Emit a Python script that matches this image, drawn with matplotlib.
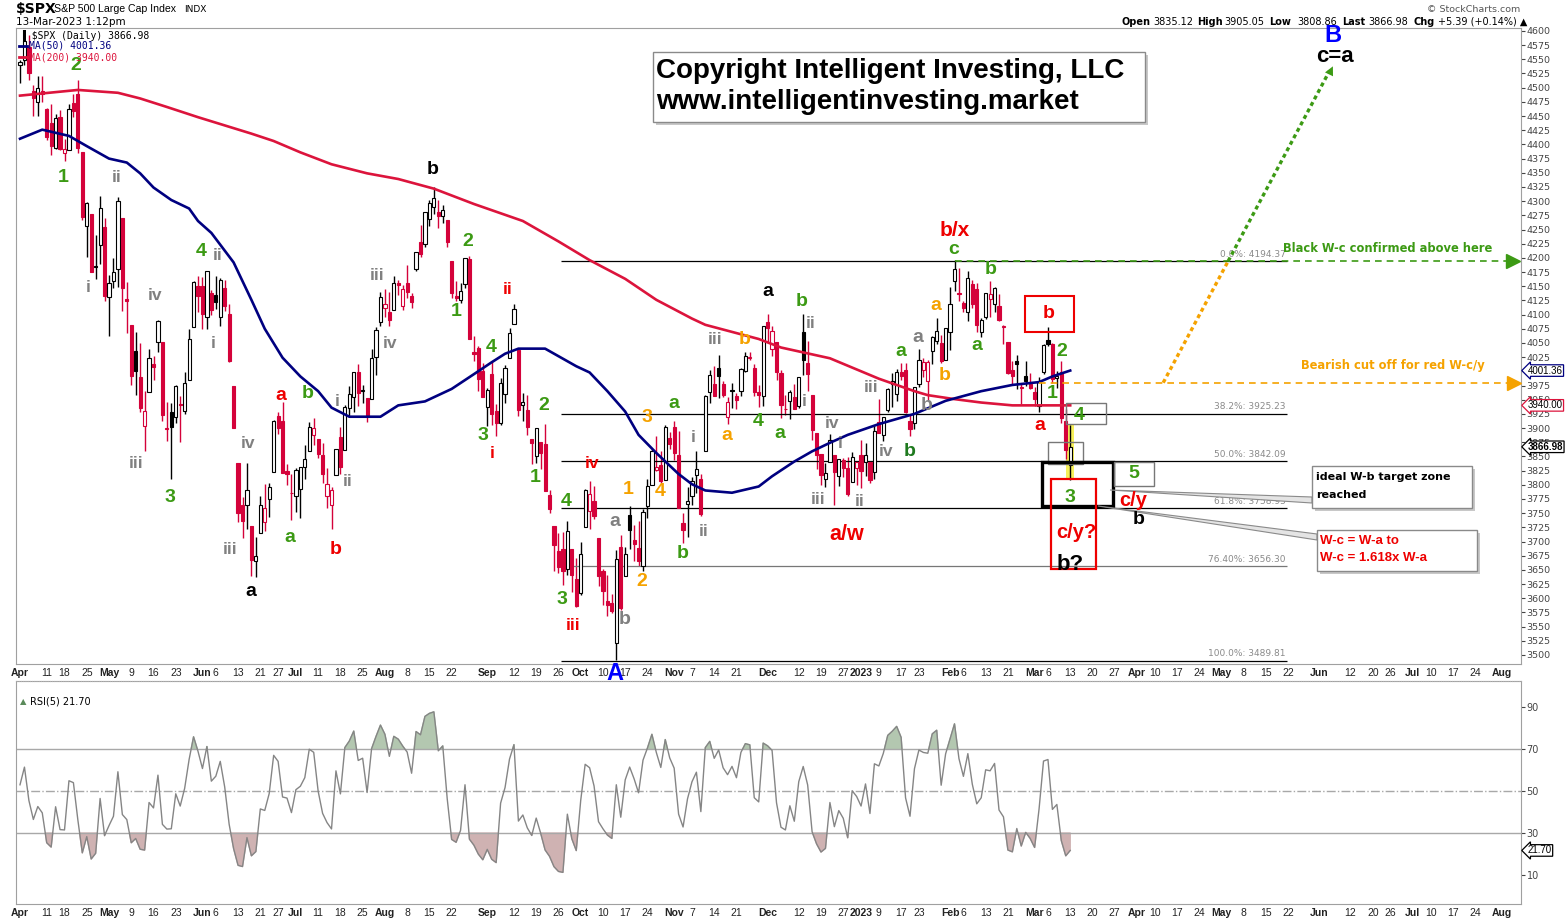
import numpy as np
import pandas as pd
import matplotlib
matplotlib.use('Agg')
import matplotlib.pyplot as plt
import matplotlib.transforms as mtransforms
from matplotlib.patches import Rectangle, Polygon

# S&P 500 daily prices, 1 Apr 2022 .. 13 Mar 2023 (one row per month)
opens = [
    4540.32, 4547.97, 4572.45, 4494.17, 4474.65, 4494.15, 4462.64, 4437.59, 4394.30, 4449.12, 4385.63, 4390.63, 4472.26, 4489.17, 4385.83, 4255.34, 4278.14, 4186.52, 4222.58, 4253.75,
    4130.61, 4159.78, 4181.18, 4270.43, 4128.17, 4081.27, 4035.18, 3990.08, 3903.95, 3963.90, 4013.02, 4052.00, 4051.98, 3899.00, 3927.76, 3919.42, 3942.94, 3929.59, 3984.60, 4077.43, 4151.09,
    4149.78, 4095.41, 4137.57, 4134.72, 4096.47, 4147.12, 4101.65, 3974.39, 3838.15, 3763.52, 3764.05, 3728.18, 3665.90, 3715.31, 3733.89, 3774.71, 3821.75, 3920.76, 3913.00, 3825.09, 3785.99,
    3781.00, 3792.61, 3831.98, 3858.85, 3888.26, 3880.94, 3851.95, 3779.67, 3763.99, 3818.00, 3883.79, 3860.73, 3935.32, 3955.47, 3998.43, 3965.72, 3953.22, 3951.43, 4026.13, 4087.33,
    4112.38, 4104.21, 4107.96, 4154.85, 4115.87, 4155.93, 4133.11, 4181.02, 4227.40, 4225.02, 4269.37, 4290.46, 4280.40, 4273.13, 4266.31, 4195.08, 4133.09, 4126.55, 4153.26, 4198.74, 4034.58, 4041.25, 4000.67,
    3936.73, 3994.66, 3930.89, 3909.43, 3959.94, 4022.94, 4083.67, 4037.12, 3940.73, 3932.41, 3880.95, 3849.91, 3875.23, 3871.40, 3782.36, 3727.14, 3682.72, 3686.44, 3651.94, 3687.01, 3633.48,
    3609.78, 3726.46, 3753.25, 3771.97, 3706.74, 3647.51, 3595.86, 3590.83, 3520.37, 3690.41, 3638.65, 3746.26, 3703.11, 3689.05, 3657.10, 3762.01, 3799.44, 3825.97, 3834.69, 3808.26, 3881.85,
    3901.79, 3852.90, 3733.25, 3766.98, 3780.71, 3817.02, 3810.94, 3859.89, 3963.72, 3977.97, 4006.41, 3976.82, 3919.26, 3966.39, 3956.23, 3965.51, 4000.30, 4023.34, 4005.36, 3964.19, 3957.18,
    4087.14, 4040.17, 4052.02, 3996.63, 3933.28, 3947.79, 3954.17, 3939.29, 4069.38, 4015.54, 3958.37, 3890.91, 3853.79, 3810.47, 3839.49, 3853.26, 3815.11, 3843.34, 3829.56, 3805.45, 3829.06,
    3853.29, 3840.36, 3839.74, 3823.37, 3910.82, 3888.57, 3932.35, 3977.57, 3960.60, 3999.28, 4002.25, 3911.84, 3909.04, 3978.14, 4001.74, 3982.71, 4036.08, 4053.72, 4049.27, 4020.85,
    4070.07, 4158.68, 4136.69, 4119.57, 4105.35, 4153.47, 4144.25, 4068.92, 4096.62, 4126.70, 4119.50, 4114.75, 4077.39, 4052.35, 4001.83, 4018.60, 3973.24, 3992.36, 3977.19,
    3963.34, 3938.68, 3998.02, 4055.15, 4048.26, 3987.55, 3998.66, 3912.77, 3835.12,
]
highs = [
    4548.70, 4583.50, 4593.45, 4503.94, 4521.16, 4520.41, 4464.35, 4471.00, 4453.92, 4460.46, 4410.31, 4471.03, 4488.29, 4512.94, 4385.83, 4299.02, 4278.14, 4240.71, 4308.45, 4269.68,
    4169.81, 4200.10, 4307.66, 4270.43, 4157.69, 4081.27, 4068.82, 4049.09, 3964.80, 4038.88, 4026.17, 4090.72, 4051.98, 3945.96, 3943.42, 3975.45, 3955.68, 3999.33, 4075.14, 4158.49, 4168.34,
    4166.54, 4177.51, 4142.67, 4168.78, 4164.86, 4160.14, 4119.10, 3974.39, 3838.15, 3778.18, 3837.56, 3728.18, 3707.71, 3779.65, 3801.79, 3802.58, 3913.65, 3927.72, 3945.86, 3836.50, 3818.99,
    3829.82, 3832.19, 3870.91, 3910.63, 3918.50, 3880.94, 3873.41, 3829.44, 3796.41, 3863.62, 3902.44, 3939.81, 3974.13, 3999.29, 4012.44, 3975.30, 3953.22, 4039.56, 4078.95, 4140.15,
    4144.95, 4140.47, 4167.66, 4161.29, 4151.58, 4186.62, 4137.30, 4211.03, 4257.91, 4280.47, 4301.79, 4325.28, 4302.18, 4292.53, 4266.31, 4195.08, 4159.77, 4156.56, 4200.54, 4203.04, 4062.99, 4044.98, 4015.37,
    3970.23, 4018.43, 3942.55, 3987.89, 4010.50, 4076.81, 4119.28, 4037.12, 3961.94, 3959.14, 3880.95, 3900.45, 3876.01, 3907.07, 3790.68, 3727.14, 3715.67, 3717.53, 3736.74, 3687.01, 3671.44,
    3698.35, 3791.92, 3806.91, 3797.93, 3706.74, 3652.17, 3640.66, 3608.34, 3685.41, 3712.00, 3689.73, 3762.79, 3728.58, 3736.00, 3757.89, 3810.74, 3862.85, 3886.15, 3859.95, 3905.42, 3893.73,
    3911.79, 3894.44, 3750.59, 3796.34, 3813.95, 3859.40, 3818.20, 3959.09, 4001.48, 4008.97, 4028.84, 3983.09, 3954.33, 3979.89, 3962.00, 4005.88, 4033.78, 4034.02, 4012.27, 3976.77, 4080.11,
    4100.51, 4080.48, 4052.45, 4001.51, 3957.57, 3966.64, 3977.02, 3990.71, 4100.96, 4053.76, 3958.37, 3890.91, 3854.86, 3838.24, 3889.82, 3853.26, 3845.80, 3846.65, 3848.32, 3858.19, 3839.85,
    3878.46, 3873.16, 3839.74, 3906.19, 3950.57, 3919.83, 3970.07, 3997.76, 4003.95, 4015.39, 4014.16, 3922.94, 3972.96, 4039.31, 4023.92, 4019.55, 4061.57, 4094.21, 4063.85, 4077.16,
    4148.95, 4195.44, 4182.36, 4124.63, 4176.54, 4160.77, 4156.23, 4094.36, 4138.90, 4159.77, 4148.11, 4136.54, 4081.51, 4052.35, 4017.37, 4028.30, 3978.25, 4018.05, 3997.50,
    3971.73, 3990.84, 4048.29, 4078.49, 4050.00, 4000.41, 4017.81, 3934.05, 3905.05,
]
lows = [
    4507.57, 4539.21, 4514.17, 4450.04, 4450.30, 4474.60, 4408.38, 4381.34, 4392.70, 4390.77, 4370.30, 4390.63, 4448.76, 4384.47, 4267.62, 4200.82, 4175.04, 4162.90, 4188.63, 4124.28,
    4062.51, 4147.08, 4148.91, 4106.01, 4067.91, 3975.48, 3958.17, 3928.82, 3858.87, 3963.90, 3983.99, 4033.93, 3911.91, 3876.58, 3810.32, 3909.46, 3875.13, 3925.03, 3984.60, 4077.43, 4104.88,
    4073.85, 4074.37, 4098.67, 4109.18, 4080.19, 4107.20, 4017.17, 3900.16, 3734.30, 3705.68, 3722.30, 3639.77, 3636.87, 3715.31, 3717.69, 3743.52, 3821.75, 3889.66, 3820.14, 3799.02, 3738.67,
    3752.10, 3742.06, 3809.37, 3858.85, 3869.34, 3847.22, 3802.36, 3759.07, 3721.56, 3817.18, 3818.63, 3860.73, 3922.03, 3927.64, 3938.85, 3943.46, 3910.74, 3951.43, 3992.97, 4079.22,
    4096.02, 4079.81, 4107.96, 4135.42, 4107.31, 4128.97, 4112.09, 4177.26, 4201.41, 4219.78, 4256.90, 4277.77, 4253.08, 4261.98, 4218.70, 4129.86, 4124.03, 4119.97, 4147.59, 4057.66, 4017.42, 3965.21, 3954.53,
    3903.65, 3906.21, 3886.75, 3906.03, 3944.81, 4022.94, 4083.67, 3921.32, 3912.23, 3888.28, 3837.08, 3838.50, 3827.54, 3789.49, 3749.45, 3647.47, 3644.76, 3623.29, 3640.61, 3610.40, 3584.13,
    3604.93, 3726.46, 3722.66, 3739.22, 3620.73, 3588.10, 3568.45, 3573.86, 3491.58, 3579.68, 3638.65, 3686.53, 3666.51, 3656.44, 3647.42, 3741.65, 3799.44, 3824.07, 3803.79, 3808.26, 3863.18,
    3843.80, 3758.68, 3698.15, 3708.84, 3764.70, 3786.28, 3744.22, 3859.89, 3944.82, 3956.40, 3953.17, 3954.34, 3906.54, 3935.98, 3933.34, 3956.88, 3998.66, 4020.76, 3955.77, 3937.65, 3938.58,
    4050.87, 4026.63, 3984.49, 3918.39, 3922.68, 3916.54, 3933.04, 3935.30, 3993.03, 3965.65, 3879.45, 3827.91, 3800.04, 3795.62, 3839.49, 3764.49, 3797.01, 3813.22, 3780.78, 3805.45, 3800.34,
    3794.33, 3815.77, 3802.42, 3809.56, 3890.42, 3877.29, 3928.54, 3937.56, 3947.67, 3984.57, 3926.59, 3885.54, 3897.86, 3971.64, 3989.79, 3949.06, 4013.29, 4048.70, 4015.55, 4020.44,
    4037.20, 4141.88, 4123.36, 4103.98, 4088.39, 4111.35, 4069.67, 4060.79, 4092.67, 4095.01, 4103.98, 4089.49, 4047.95, 3995.19, 3976.90, 3969.19, 3943.08, 3973.55, 3968.98,
    3939.05, 3928.16, 3995.17, 4044.61, 3980.31, 3969.76, 3908.70, 3846.32, 3808.86,
]
closes = [
    4545.86, 4582.64, 4525.12, 4481.15, 4500.21, 4488.28, 4412.53, 4397.45, 4446.59, 4392.59, 4391.69, 4462.21, 4459.45, 4393.66, 4271.78, 4296.12, 4175.20, 4183.96, 4287.50, 4131.93,
    4155.38, 4175.48, 4300.17, 4146.87, 4123.34, 3991.24, 4001.05, 3935.18, 3930.08, 4023.89, 4008.01, 4088.85, 3923.68, 3900.79, 3901.36, 3973.75, 3941.48, 3978.73, 4057.84, 4158.24, 4132.15,
    4101.23, 4176.82, 4108.54, 4121.43, 4160.68, 4115.77, 4017.82, 3900.86, 3749.63, 3735.48, 3789.99, 3666.77, 3674.84, 3764.79, 3759.89, 3795.73, 3911.74, 3900.11, 3821.55, 3818.83, 3785.38,
    3825.33, 3831.39, 3845.08, 3902.62, 3899.38, 3854.43, 3818.80, 3801.78, 3790.38, 3863.16, 3830.85, 3936.69, 3959.90, 3998.95, 3961.63, 3966.84, 3921.05, 4023.61, 4072.43, 4130.29,
    4118.63, 4091.19, 4155.17, 4151.94, 4145.19, 4140.06, 4122.47, 4210.24, 4207.27, 4280.15, 4297.14, 4305.20, 4274.04, 4283.74, 4228.48, 4137.99, 4128.73, 4140.77, 4199.12, 4057.66, 4030.61, 3986.16, 3955.00,
    3966.85, 3924.26, 3908.19, 3979.87, 4006.18, 4067.36, 4110.41, 3932.69, 3946.01, 3901.35, 3873.33, 3899.89, 3855.93, 3789.93, 3757.99, 3693.23, 3655.04, 3647.29, 3719.04, 3640.47, 3585.62,
    3678.43, 3790.93, 3783.28, 3744.52, 3639.66, 3612.39, 3588.84, 3577.03, 3669.91, 3583.07, 3677.95, 3719.98, 3695.16, 3665.78, 3752.75, 3797.34, 3859.11, 3830.60, 3807.30, 3901.06, 3871.98,
    3856.10, 3759.69, 3719.89, 3770.55, 3806.80, 3828.11, 3748.57, 3956.37, 3992.93, 3957.25, 3991.73, 3958.79, 3946.56, 3965.34, 3949.94, 4003.58, 4027.26, 4026.12, 3963.94, 3957.63, 4080.11,
    4076.57, 4071.70, 3998.84, 3941.26, 3933.92, 3963.51, 3934.38, 3990.56, 4019.65, 3995.32, 3895.75, 3852.36, 3817.66, 3821.62, 3878.44, 3822.39, 3844.82, 3829.25, 3783.22, 3849.28, 3839.50,
    3824.14, 3852.97, 3808.10, 3895.08, 3892.09, 3919.25, 3969.61, 3983.17, 3999.09, 3990.97, 3928.86, 3898.85, 3972.61, 4019.81, 4016.95, 4016.22, 4060.43, 4070.56, 4017.77, 4076.60,
    4119.21, 4179.76, 4136.48, 4111.08, 4164.00, 4117.86, 4081.50, 4090.46, 4137.29, 4136.13, 4147.60, 4090.41, 4079.09, 3997.34, 3991.05, 4012.32, 3970.04, 3982.24, 3970.15,
    3951.39, 3981.35, 4045.64, 4048.42, 3986.37, 3992.01, 3918.32, 3861.59, 3866.98,
]
# closes before the window (March 2022), used for the RSI start and first candle colour
prior_closes = [4259.52, 4204.31, 4173.11, 4262.45, 4357.86, 4411.67, 4463.12, 4461.18,
                4511.61, 4456.24, 4520.16, 4543.06, 4575.52, 4631.60, 4602.45, 4530.41]

# moving averages (session number -> value)
ma50_session = [0, 5, 11, 15, 20, 24, 27, 30, 34, 38, 40, 43, 48, 52, 55, 59, 63, 67, 70, 74, 78, 81, 85, 91,
                97, 102, 106, 109, 112, 118, 125, 128, 132, 136, 139, 143, 148, 151, 154, 160, 166, 169, 174,
                178, 182, 186, 193, 201, 208, 216, 223, 229, 232, 236]
ma50_value = [4410, 4426, 4415, 4397, 4375, 4368, 4349, 4324, 4302, 4287, 4265, 4244, 4192, 4126, 4075, 4024, 3991,
              3965, 3936, 3920, 3920, 3920, 3940, 3947, 3969, 3995, 4016, 4031, 4040, 4040, 4009, 3998, 3965, 3929,
              3888, 3856, 3819, 3801, 3790, 3786, 3797, 3815, 3841, 3859, 3874, 3888, 3907, 3925, 3948, 3965, 3976,
              3981, 3991, 4001.36]
ma200_session = [0, 13, 22, 27, 33, 40, 52, 57, 63, 70, 78, 85, 93, 102, 113, 121, 128, 136, 143, 151, 154, 166,
                 171, 182, 193, 201, 204, 210, 216, 223, 236]
ma200_value = [4486, 4496, 4491, 4481, 4466, 4448, 4419, 4406, 4386, 4365, 4349, 4339, 4322, 4295, 4265, 4229, 4196,
               4163, 4126, 4093, 4082, 4057, 4042, 4023, 3987, 3965, 3958, 3951, 3945, 3940, 3940.00]

fib_high = 4194.37
fib_low = 3489.81
fib_ratios = [0.0, 0.382, 0.5, 0.618, 0.7637, 1.0]
fib_names = ['0.0%', '38.2%', '50.0%', '61.8%', '76.40%', '100.0%']
cutoff_level = 3980
target_level = 4542

holidays = ['2022-04-15', '2022-05-30', '2022-06-20', '2022-07-04', '2022-09-05', '2022-11-24',
            '2022-12-26', '2023-01-02', '2023-01-16', '2023-02-20', '2023-04-07', '2023-05-29',
            '2023-06-19', '2023-07-04']

# ------------------------------------------------------------------
opens, highs, lows, closes = map(np.array, (opens, highs, lows, closes))
sessions = pd.bdate_range('2022-04-01', '2023-08-01', freq='C', holidays=holidays)
n = len(closes)
idx = np.arange(n)

RED = '#d4023a'
G = '#3c9a14'
DG = '#1f7a1f'
GR = '#808080'
OR = '#f5a200'
RD = '#ee0000'
BK = 'black'
BL = '#0000ff'
NAVY = '#000080'
CRIM = '#dc143c'

plt.rcParams['font.family'] = ['DejaVu Sans']
W, H = 1565, 919
fig = plt.figure(figsize=(W / 100, H / 100), dpi=100)
ax = fig.add_axes([16 / W, 1 - 664 / H, 1505 / W, 636 / H])
ax2 = fig.add_axes([16 / W, 1 - 904 / H, 1505 / W, 223 / H])

# candles: black/red against previous close, hollow if close > open
prev = np.r_[prior_closes[-1], closes[:-1]]
col = np.where(closes >= prev, 'black', RED)
face = np.where(closes > opens, 'white', col)
ax.vlines(idx, lows, highs, colors=col, lw=1.0, zorder=2)
body = np.maximum(np.abs(closes - opens), 1.0)
ax.bar(idx, body, bottom=np.minimum(opens, closes), width=0.72, color=face,
       edgecolor=col, linewidth=0.8, zorder=3)

# yellow highlight behind the last candle
ax.bar(idx[-1], highs[-1] - lows[-1], bottom=lows[-1], width=1.7, color='#f6f05a', zorder=1)

ax.plot(ma200_session, ma200_value, color=CRIM, lw=1.9, zorder=4)
ax.plot(ma50_session, ma50_value, color=NAVY, lw=1.9, zorder=4)

# fibonacci retracement
fib_start, fib_end = 121.5, 284.7
for r, name in zip(fib_ratios, fib_names):
    lvl = fib_high - r * (fib_high - fib_low)
    c = '#777777' if r == 0.7637 else 'black'
    ax.hlines(lvl, fib_start, fib_end, colors=c, lw=0.9, zorder=2)
    ax.text(fib_end - 0.3, lvl + 4, f'{name}: {lvl:.2f}', ha='right', va='bottom',
            fontsize=6.5, color='#8a8a8a', zorder=2)

# levels and projection
ax.plot([210, 335.6], [fib_high, fib_high], color=G, lw=1.2, ls=(0, (4, 3)), zorder=5)
ax.plot([335.6], [fib_high], marker='>', ms=10, color=G, zorder=5, clip_on=False)
ax.plot([229, 335.8], [cutoff_level, cutoff_level], color=OR, lw=1.2, ls=(0, (4, 3)), zorder=5)
ax.plot([335.8], [cutoff_level], marker='>', ms=10, color=OR, zorder=5, clip_on=False)
ax.plot([256.9, 271.5], [cutoff_level, fib_high], color=OR, lw=2.4, ls=(0, (1.2, 1.0)), zorder=5)
ax.plot([271.5, 294.3], [fib_high, target_level - 12], color=G, lw=2.4, ls=(0, (1.2, 1.0)), zorder=5)
ax.annotate('', xy=(295.3, target_level), xytext=(293.2, target_level - 34),
            arrowprops=dict(arrowstyle='-|>', color=G, lw=0, mutation_scale=16), zorder=6)

ax.set_xlim(-0.9, 337.3)
ax.set_ylim(3484.1, 4605.2)
ax.yaxis.tick_right()
ax.set_yticks(np.arange(3500, 4601, 25))
# the 4000 label sits fully under the MA(50) tag
ax.set_yticklabels(['' if v == 4000 else str(v) for v in range(3500, 4601, 25)])
ax.tick_params(axis='y', labelsize=6.8, length=3, pad=1, colors='#444444')

# RSI(5), Wilder smoothing
s = pd.Series(np.r_[prior_closes, closes])
d = s.diff()
gain = d.clip(lower=0).ewm(alpha=1 / 5, adjust=False).mean()
loss = (-d.clip(upper=0)).ewm(alpha=1 / 5, adjust=False).mean()
rsi = (100 - 100 / (1 + gain / loss)).iloc[len(prior_closes):].to_numpy()

ax2.axhline(70, color='#a8a8a8', lw=1)
ax2.axhline(30, color='#a8a8a8', lw=1)
ax2.axhline(50, color='#a8a8a8', lw=1, ls='-.')
ax2.fill_between(idx, rsi, 70, where=rsi >= 70, interpolate=True, color='#b3c7b0')
ax2.fill_between(idx, rsi, 30, where=rsi <= 30, interpolate=True, color='#cfb2b2')
ax2.plot(idx, rsi, color='#858585', lw=1)
ax2.set_xlim(-0.9, 337.3)
ax2.set_ylim(-3.8, 102.4)
ax2.yaxis.tick_right()
ax2.set_yticks([10, 30, 50, 70, 90])
ax2.tick_params(axis='y', labelsize=7, length=3, pad=1, colors='#444444')

# date axis labels
month_pos = [i for i in range(len(sessions)) if i == 0 or sessions[i].month != sessions[i - 1].month]
week_pos = [i for i in range(1, len(sessions))
            if sessions[i].weekday() < sessions[i - 1].weekday() or (sessions[i] - sessions[i - 1]).days >= 7]
tick_pos, tick_lab, tick_bold = [], [], []
for i in range(len(sessions)):
    if i in month_pos:
        tick_pos.append(i)
        tick_lab.append('2023' if sessions[i].month == 1 else sessions[i].strftime('%b'))
        tick_bold.append(True)
    elif i in week_pos:
        pm = max(m for m in month_pos if m <= i)
        nm = min([m for m in month_pos if m > i] + [10 ** 6])
        if i - pm >= 3 and nm - i >= 4:
            tick_pos.append(i)
            tick_lab.append(str(sessions[i].day))
            tick_bold.append(False)
for a in (ax, ax2):
    a.set_xticks(tick_pos)
    a.set_xticklabels(tick_lab)
    a.tick_params(axis='x', length=0, pad=3, labelsize=7.5, colors='#222222')
    for t, b in zip(a.get_xticklabels(), tick_bold):
        t.set_family('Liberation Sans')
        if b:
            t.set_fontweight('bold')
    for sp in a.spines.values():
        sp.set_color('#a0a0a0')
        sp.set_linewidth(0.8)

# price tags on the right axis
tr = mtransforms.blended_transform_factory(ax.transAxes, ax.transData)
for val, ec, w in [(4001.36, NAVY, 'normal'), (3940.00, CRIM, 'normal'), (closes[-1], 'black', 'bold')]:
    ax.text(1.0045, val, f'{val:.2f}', transform=tr, fontsize=7, fontweight=w, color='black',
            va='center', ha='left', clip_on=False, zorder=8, family='Liberation Sans',
            bbox=dict(boxstyle='larrow,pad=0.08', fc='white', ec=ec, lw=0.9))
tr2 = mtransforms.blended_transform_factory(ax2.transAxes, ax2.transData)
ax2.text(1.0045, rsi[-1], f'{rsi[-1]:.2f}', transform=tr2, fontsize=7, va='center', ha='left',
         clip_on=False, family='Liberation Sans',
         bbox=dict(boxstyle='larrow,pad=0.08', fc='white', ec='black', lw=0.9))

# ------------------------------------------------------------------
# overlay in pixel space for labels, boxes and header
ov = fig.add_axes([0, 0, 1, 1], zorder=10)
ov.set_xlim(0, W)
ov.set_ylim(H, 0)
ov.axis('off')


def lab(x, y, s, c, size=14):
    ov.text(x, y, s, color=c, fontsize=size, fontweight='bold', ha='center', va='center',
            family='Liberation Sans')


def box(x0, y0, x1, y1, ec, lw=1.0, shadow=False, fc='none'):
    if shadow:
        ov.add_patch(Rectangle((x0 + 3, y0 + 3), x1 - x0, y1 - y0, fc='#c8c8c8', ec='none'))
        fc = 'white'
    ov.add_patch(Rectangle((x0, y0), x1 - x0, y1 - y0, fc=fc, ec=ec, lw=lw))


waves = [
    (76, 66, '2', G), (63, 178, '1', G), (117, 178, 'ii', GR), (88, 288, 'i', GR), (155, 295, 'iv', GR),
    (213, 344, 'i', GR), (201, 252, '4', G), (218, 255, 'ii', GR), (136, 463, 'iii', GR), (170, 498, '3', G),
    (248, 443, 'iv', GR), (230, 549, 'iii', GR), (251, 592, 'a', BK), (281, 396, 'a', RD), (308, 393, 'b', G),
    (290, 537, 'a', G), (336, 549, 'b', RD), (337, 401, 'i', GR), (348, 482, 'ii', GR), (377, 276, 'iii', GR),
    (390, 343, 'iv', GR), (433, 170, 'b', BK), (468, 242, '2', G), (456, 312, '1', G), (491, 347, '4', G),
    (483, 436, '3', G), (492, 453, 'i', RD), (508, 290, 'ii', RD), (544, 405, '2', G), (535, 477, '1', G),
    (592, 463, 'iv', RD), (566, 502, '4', G), (562, 599, '3', G), (573, 626, 'iii', RD), (615, 522, 'a', GR),
    (625, 619, 'b', GR), (628, 489, '1', OR), (647, 418, '3', OR), (660, 491, '4', OR), (642, 582, '2', OR),
    (674, 403, 'a', G), (683, 553, 'b', G), (693, 438, 'i', GR), (704, 532, 'ii', GR), (715, 340, 'iii', GR),
    (727, 435, 'a', OR), (745, 339, 'b', OR), (758, 422, '4', G), (780, 434, 'a', G), (768, 292, 'a', BK),
    (802, 301, 'b', G), (811, 324, 'ii', GR), (804, 401, 'i', GR), (832, 423, 'iv', GR), (840, 443, 'i', GR),
    (818, 499, 'iii', GR), (860, 501, 'ii', GR), (871, 387, 'iii', GR), (886, 451, 'iv', GR), (910, 451, 'b', DG),
    (901, 352, 'a', G), (918, 337, 'a', GR), (927, 405, 'b', GR), (936, 306, 'a', OR), (945, 375, 'b', OR),
    (954, 249, 'c', G), (991, 269, 'b', G), (977, 346, 'a', G), (1049, 313, 'b', RD), (1062, 352, '2', G),
    (1052, 394, '1', G), (1040, 425, 'a', RD), (1079, 415, '4', G), (1134, 473, '5', G), (1070, 497, '3', G),
    (1139, 520, 'b', BK),
]
for x, y, s, c in waves:
    lab(x, y, s, c, 12.5 if set(s) <= set('iv') else 14)
lab(955, 230, 'b/x', RD, 15)
lab(847, 534, 'a/w', RD, 15.5)
lab(1133, 500, 'c/y', RD, 14.5)
lab(1076, 532, 'c/y?', RD, 14.5)
lab(1070, 565, 'b?', BK, 16)
lab(615, 673, 'A', BL, 17)
lab(1333, 35, 'B', BL, 17)
lab(1335, 57, 'c=a', BK, 16)

box(1025, 296, 1074, 332, RD, 1.5)
box(1066, 403, 1106, 424, '#777777', 1.0)
box(1048, 442, 1083, 464, '#777777', 1.0)
box(1042, 462, 1113, 506, 'black', 2.4)
box(1114, 462, 1154, 486, '#777777', 1.0)
box(1051, 479, 1096, 569, RD, 1.6)

# callouts
ov.add_patch(Polygon([(1110, 490), (1312, 497), (1312, 503)], closed=True, fc='#e4e4e4', ec='#8a8a8a', lw=0.8))
ov.add_patch(Polygon([(1098, 506), (1317, 534), (1317, 540)], closed=True, fc='#e4e4e4', ec='#8a8a8a', lw=0.8))
box(1312, 466, 1472, 508, '#8a8a8a', 1.0, shadow=True)
ov.text(1316, 477, 'ideal W-b target zone', fontsize=8, fontweight='bold', va='center', ha='left')
ov.text(1316, 495, 'reached', fontsize=8, fontweight='bold', va='center', ha='left')
box(1317, 530, 1477, 571, '#8a8a8a', 1.0, shadow=True)
ov.text(1320, 541, 'W-c = W-a to', fontsize=9.5, fontweight='bold', color=RD, va='center', ha='left',
        family='Liberation Sans')
ov.text(1320, 558, 'W-c = 1.618x W-a', fontsize=9.5, fontweight='bold', color=RD, va='center', ha='left',
        family='Liberation Sans')

ov.text(1283, 249, 'Black W-c confirmed above here', fontsize=8.3, fontweight='bold', color=G,
        va='center', ha='left')
ov.text(1301, 366, 'Bearish cut off for red W-c/y', fontsize=8.3, fontweight='bold', color=OR,
        va='center', ha='left')

box(653, 52, 1145, 122, '#8a8a8a', 1.0, shadow=True)
ov.text(656, 71, 'Copyright Intelligent Investing, LLC', fontsize=20, fontweight='bold',
        va='center', ha='left', family='Liberation Sans')
ov.text(656, 102, 'www.intelligentinvesting.market', fontsize=20, fontweight='bold',
        va='center', ha='left', family='Liberation Sans')

# header
ov.text(16, 9, '$SPX', fontsize=10, fontweight='bold', va='center', ha='left')
ov.text(54, 9, 'S&P 500 Large Cap Index', fontsize=7.6, va='center', ha='left', family='Liberation Sans')
ov.text(184, 9, 'INDX', fontsize=6.5, va='center', ha='left')
ov.text(16, 22, '13-Mar-2023 1:12pm', fontsize=7.5, va='center', ha='left')
ov.text(1520, 9, '\u00a9 StockCharts.com', fontsize=6.8, va='center', ha='right', color='#555555')
for x, s, b in [(1121, 'Open', True), (1153, '3835.12', False), (1197, 'High', True), (1224, '3905.05', False),
                (1269, 'Low', True), (1297, '3808.86', False), (1342, 'Last', True), (1368, '3866.98', False),
                (1414, 'Chg', True), (1438, '+5.39 (+0.14%) \u25b2', False)]:
    ov.text(x, 22, s, fontsize=7, fontweight='bold' if b else 'normal', va='center', ha='left')

# legend inside the price panel
ov.text(20, 35, '\u2590 $SPX (Daily) 3866.98', fontsize=7, family='DejaVu Sans Mono', va='center', ha='left')
ov.plot([19, 27], [46, 46], color=NAVY, lw=2)
ov.text(29, 46, 'MA(50) 4001.36', fontsize=7, family='DejaVu Sans Mono', color=NAVY, va='center', ha='left')
ov.plot([19, 27], [57, 57], color=CRIM, lw=2)
ov.text(29, 57, 'MA(200) 3940.00', fontsize=7, family='DejaVu Sans Mono', color=CRIM, va='center', ha='left')
ov.text(20, 702, '\u25b2', fontsize=6, color='#5a8a5a', va='center', ha='left')
ov.text(30, 702, 'RSI(5) 21.70', fontsize=7, va='center', ha='left')
ov.plot([16, 1521], [681, 681], color='#b0b0b0', lw=0.8, ls=(0, (1, 1)))

fig.savefig('out.png', dpi=100)
